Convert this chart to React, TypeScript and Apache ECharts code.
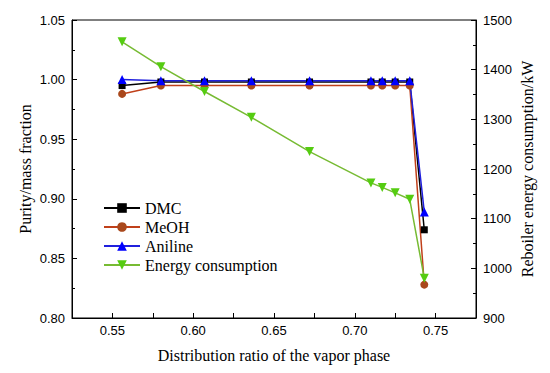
import React, { useEffect, useRef } from "react";
import * as echarts from "echarts";

const ratios = [0.556, 0.58, 0.607, 0.636, 0.672, 0.71, 0.717, 0.725, 0.734, 0.743];
const dmc = [0.995, 0.998, 0.998, 0.998, 0.998, 0.998, 0.998, 0.998, 0.998, 0.874];
const meoh = [0.988, 0.995, 0.995, 0.995, 0.995, 0.995, 0.995, 0.995, 0.995, 0.828];
const aniline = [1.0, 0.999, 0.999, 0.999, 0.999, 0.999, 0.999, 0.999, 0.999, 0.889];
const energy = [1456, 1406, 1356, 1304, 1235, 1172, 1163, 1152, 1139, 980];

const pair = (ys: number[]) => ratios.map((x, i) => [x, ys[i]]);

export default function App() {
  const ref = useRef<HTMLDivElement>(null);
  useEffect(() => {
    if (!ref.current) return;
    const chart = echarts.init(ref.current, null, { renderer: "svg" });
    const serif = "Liberation Serif";
    const sans = "Liberation Sans";
    const axisCommon = {
      axisLine: { show: true, lineStyle: { color: "#000", width: 1 } },
      axisTick: { show: true, inside: true, length: 5, lineStyle: { color: "#000" } },
      minorTick: { show: true, splitNumber: 2, length: 3, lineStyle: { color: "#000" } },
      splitLine: { show: false },
      axisLabel: { color: "#000", fontFamily: sans, fontSize: 13, margin: 7 },
      nameTextStyle: { color: "#000", fontFamily: serif, fontSize: 16 },
      nameLocation: "middle" as const,
      nameMoveOverlap: false,
    };
    chart.setOption({
      animation: false,
      backgroundColor: "#fff",
      grid: {
        left: 72,
        right: 74,
        top: 20,
        bottom: 55,
        show: true,
        borderColor: "#000",
        borderWidth: 1,
      },
      legend: {
        orient: "vertical",
        left: 98,
        top: 195,
        itemWidth: 36,
        itemHeight: 12,
        itemGap: 3,
        textStyle: { color: "#000", fontFamily: serif, fontSize: 16 },
        data: ["DMC", "MeOH", "Aniline", "Energy consumption"],
      },
      xAxis: {
        type: "value",
        min: 0.525,
        max: 0.775,
        interval: 0.025,
        ...axisCommon,
        minorTick: { show: false },
        axisLabel: {
          ...axisCommon.axisLabel,
          margin: 6,
          formatter: (v: number) => {
            const k = Math.round(v / 0.05);
            return Math.abs(k * 0.05 - v) < 1e-6 ? (k * 0.05).toFixed(2) : "";
          },
        },
        name: "Distribution ratio of the vapor phase",
        nameGap: 29,
      },
      yAxis: [
        {
          type: "value",
          min: 0.8,
          max: 1.05,
          interval: 0.05,
          ...axisCommon,
          axisLabel: { ...axisCommon.axisLabel, formatter: (v: number) => v.toFixed(2) },
          name: "Purity/mass fraction",
          nameGap: 39,
        },
        {
          type: "value",
          min: 900,
          max: 1500,
          interval: 100,
          position: "right",
          ...axisCommon,
          axisLabel: { ...axisCommon.axisLabel, formatter: (v: number) => String(v) },
          name: "Reboiler energy consumption/kW",
          nameGap: 43,
        },
      ],
      series: [
        {
          name: "DMC",
          type: "line",
          data: pair(dmc),
          symbol: "rect",
          symbolSize: 7,
          itemStyle: { color: "#000" },
          lineStyle: { color: "#000", width: 1.5 },
        },
        {
          name: "MeOH",
          type: "line",
          data: pair(meoh),
          symbol: "circle",
          symbolSize: 8,
          itemStyle: { color: "#a9481c" },
          lineStyle: { color: "#c0401a", width: 1.5 },
        },
        {
          name: "Aniline",
          type: "line",
          data: pair(aniline),
          symbol: "triangle",
          symbolSize: 9,
          itemStyle: { color: "#0000ff" },
          lineStyle: { color: "#2020dd", width: 1.5 },
        },
        {
          name: "Energy consumption",
          type: "line",
          yAxisIndex: 1,
          data: pair(energy),
          symbol: "triangle",
          symbolRotate: 180,
          symbolSize: 9,
          itemStyle: { color: "#55cc11" },
          lineStyle: { color: "#77bb33", width: 1.5 },
        },
      ],
    });
    return () => chart.dispose();
  }, []);
  return (
    <div
      ref={ref}
      style={{ position: "fixed", left: 0, top: 0, width: 550, height: 373 }}
    />
  );
}
